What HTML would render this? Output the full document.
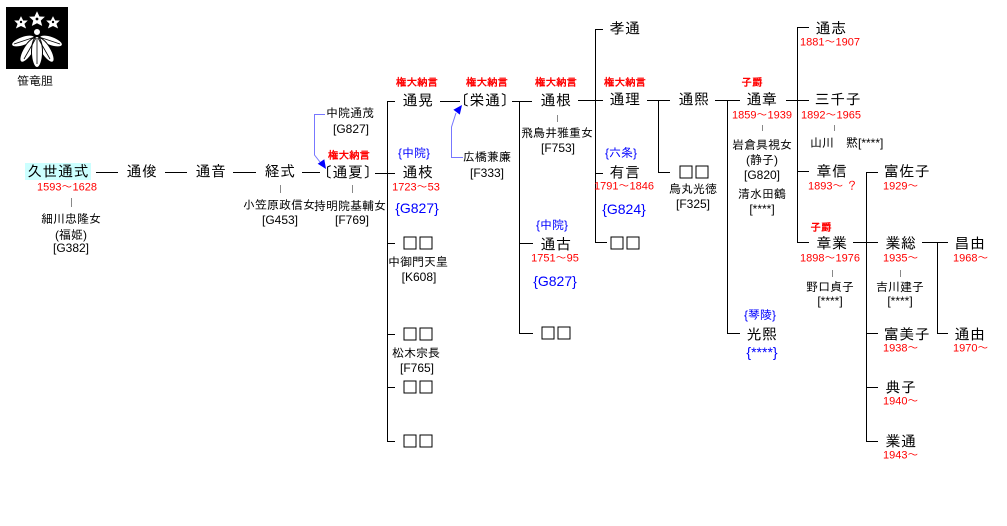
<!DOCTYPE html>
<html><head><meta charset="utf-8">
<style>
html,body{margin:0;padding:0;background:#fff;}
body{width:1007px;height:526px;position:relative;overflow:hidden;font-family:"Liberation Sans","IPAGothic","Noto Sans CJK JP",sans-serif;color:#000;}
.t{position:absolute;transform:translate(-50%,-50%);white-space:nowrap;line-height:1;}
.l{position:absolute;transform:translate(0,-50%);white-space:nowrap;line-height:1;}
.n{font-size:15px;letter-spacing:0.5px;}
.s{font-size:12px;}
.d{font-size:11px;color:#f00;}
.r{font-size:10.5px;color:#f00;font-weight:bold;}
.b{font-size:14px;color:#00f;}
.bs{font-size:12px;color:#00f;}
.sq{position:absolute;width:29px;height:13px;transform:translate(-50%,-50%);}
.sq i{position:absolute;top:0;width:11px;height:11px;border:1px solid #000;}
.sq i:first-child{left:0;}
.sq i:last-child{left:16px;}
</style></head><body>
<svg width="1007" height="526" style="position:absolute;left:0;top:0" xmlns="http://www.w3.org/2000/svg">
<!-- crest -->
<rect x="6" y="7" width="62" height="62" fill="#000"/>
<g fill="#fff" stroke="#000" stroke-width="1">
<ellipse cx="23" cy="41" rx="4.5" ry="12" transform="rotate(70 23 41)"/>
<ellipse cx="51" cy="41" rx="4.5" ry="12" transform="rotate(-70 51 41)"/>
<ellipse cx="28.5" cy="50" rx="5" ry="14" transform="rotate(32 28.5 50)"/>
<ellipse cx="45.5" cy="50" rx="5" ry="14" transform="rotate(-32 45.5 50)"/>
<ellipse cx="37" cy="52" rx="5.5" ry="15.5"/>
<polygon points="21,15 23.5,20 29,20 25,24 27,29.5 21,26.5 15,29.5 17,24 13,20 18.5,20"/>
<polygon points="53,15 55.5,20 61,20 57,24 59,29.5 53,26.5 47,29.5 49,24 45,20 50.5,20"/>
<polygon points="37,10 39.8,16 46,16.3 41.3,20.8 43,27 37,23.8 31,27 32.7,20.8 28,16.3 34.2,16"/>
<circle cx="37" cy="32" r="3.5"/>
</g>
<g stroke="#000" stroke-width="0.8">
<line x1="37" y1="38" x2="37" y2="64"/>
<line x1="36" y1="38" x2="24" y2="59"/>
<line x1="38" y1="38" x2="50" y2="59"/>
<line x1="35" y1="37" x2="14" y2="44"/>
<line x1="39" y1="37" x2="60" y2="44"/>
</g>
<g fill="#000"><circle cx="21" cy="22" r="1.2"/><circle cx="53" cy="22" r="1.2"/><circle cx="37" cy="19" r="1.4"/></g>
<rect x="25" y="163" width="66" height="17" fill="#ccffff"/>
<g stroke="#000" stroke-width="1" fill="none" shape-rendering="crispEdges">
<line x1="96" y1="172.5" x2="118" y2="172.5"/>
<line x1="165" y1="172.5" x2="187" y2="172.5"/>
<line x1="233" y1="172.5" x2="256" y2="172.5"/>
<line x1="302" y1="172.5" x2="320" y2="172.5"/>
<line x1="375" y1="173.5" x2="395" y2="173.5"/>
<line x1="387.5" y1="101" x2="387.5" y2="441"/>
<line x1="387" y1="101.5" x2="395" y2="101.5"/>
<line x1="387" y1="243.5" x2="395" y2="243.5"/>
<line x1="387" y1="334.5" x2="395" y2="334.5"/>
<line x1="387" y1="387.5" x2="395" y2="387.5"/>
<line x1="387" y1="441.5" x2="395" y2="441.5"/>
<line x1="440" y1="101.5" x2="460" y2="101.5"/>
<line x1="512" y1="101.5" x2="532" y2="101.5"/>
<line x1="519.5" y1="101" x2="519.5" y2="333"/>
<line x1="519" y1="243.5" x2="533" y2="243.5"/>
<line x1="519" y1="333.5" x2="533" y2="333.5"/>
<line x1="578" y1="100.5" x2="603" y2="100.5"/>
<line x1="595.5" y1="29" x2="595.5" y2="243"/>
<line x1="595" y1="29.5" x2="603" y2="29.5"/>
<line x1="595" y1="173.5" x2="603" y2="173.5"/>
<line x1="595" y1="242.5" x2="607" y2="242.5"/>
<line x1="647" y1="100.5" x2="670" y2="100.5"/>
<line x1="658.5" y1="100" x2="658.5" y2="172"/>
<line x1="658" y1="172.5" x2="670" y2="172.5"/>
<line x1="715" y1="100.5" x2="740" y2="100.5"/>
<line x1="727.5" y1="100" x2="727.5" y2="333"/>
<line x1="727" y1="333.5" x2="740" y2="333.5"/>
<line x1="786" y1="100.5" x2="809" y2="100.5"/>
<line x1="797.5" y1="27" x2="797.5" y2="242"/>
<line x1="797" y1="27.5" x2="809" y2="27.5"/>
<line x1="797" y1="171.5" x2="809" y2="171.5"/>
<line x1="797" y1="242.5" x2="809" y2="242.5"/>
<line x1="853" y1="242.5" x2="878" y2="242.5"/>
<line x1="866.5" y1="172" x2="866.5" y2="441"/>
<line x1="866" y1="172.5" x2="878" y2="172.5"/>
<line x1="866" y1="333.5" x2="878" y2="333.5"/>
<line x1="866" y1="387.5" x2="878" y2="387.5"/>
<line x1="866" y1="441.5" x2="878" y2="441.5"/>
<line x1="922" y1="242.5" x2="948" y2="242.5"/>
<line x1="937.5" y1="242" x2="937.5" y2="333"/>
<line x1="937" y1="333.5" x2="948" y2="333.5"/>
</g>
<g stroke="#888" stroke-width="1" shape-rendering="crispEdges">
<line x1="71.5" y1="198" x2="71.5" y2="207"/>
<line x1="280.5" y1="185" x2="280.5" y2="193"/>
<line x1="352.5" y1="185" x2="352.5" y2="193"/>
<line x1="557.5" y1="115" x2="557.5" y2="122"/>
<line x1="762.5" y1="125" x2="762.5" y2="131"/>
<line x1="834.5" y1="125" x2="834.5" y2="131"/>
<line x1="832.5" y1="270" x2="832.5" y2="277"/>
<line x1="900.5" y1="270" x2="900.5" y2="277"/>
</g>
<g stroke="#7777ff" stroke-width="1" fill="none">
<polyline points="325,114.5 314.5,114.5 314.5,155 320,162"/>
<polyline points="463,157.5 451.5,157.5 451.5,127 456,113"/>
</g>
<g fill="#0000ff">
<polygon points="326,169 317.7,163.7 324.3,159.3"/>
<polygon points="462,105 459.8,114.6 453.4,109.8"/>
</g>
</svg>

<div class="t s" style="left:35px;top:81px">笹竜胆</div>

<div class="t n" style="left:58px;top:172px">久世通式</div>
<div class="t d" style="left:67px;top:188px">1593～1628</div>
<div class="t s" style="left:71px;top:219px">細川忠隆女</div>
<div class="t s" style="left:71px;top:235px">(福姫)</div>
<div class="t s" style="left:71px;top:248px">[G382]</div>

<div class="t n" style="left:142px;top:172px">通俊</div>
<div class="t n" style="left:211px;top:172px">通音</div>
<div class="t n" style="left:280px;top:172px">経式</div>
<div class="t s" style="left:279px;top:205px">小笠原政信女</div>
<div class="t s" style="left:280px;top:220px">[G453]</div>

<div class="t s" style="left:350px;top:113px">中院通茂</div>
<div class="t s" style="left:351px;top:129px">[G827]</div>
<div class="t r" style="left:349px;top:156px">権大納言</div>
<div class="t n" style="left:348px;top:173px">〔通夏〕</div>
<div class="t s" style="left:350px;top:206px">持明院基輔女</div>
<div class="t s" style="left:352px;top:220px">[F769]</div>

<div class="t r" style="left:417px;top:83px">権大納言</div>
<div class="t n" style="left:418px;top:101px">通晃</div>
<div class="t bs" style="left:414px;top:153px">{中院}</div>
<div class="t n" style="left:418px;top:173px">通枝</div>
<div class="t d" style="left:416px;top:188px">1723～53</div>
<div class="t b" style="left:417px;top:208px">{G827}</div>
<div class="sq" style="left:418px;top:243px"><i></i><i></i></div>
<div class="t s" style="left:418px;top:262px">中御門天皇</div>
<div class="t s" style="left:419px;top:277px">[K608]</div>
<div class="sq" style="left:418px;top:334px"><i></i><i></i></div>
<div class="t s" style="left:416px;top:353px">松木宗長</div>
<div class="t s" style="left:417px;top:368px">[F765]</div>
<div class="sq" style="left:418px;top:387px"><i></i><i></i></div>
<div class="sq" style="left:418px;top:441px"><i></i><i></i></div>

<div class="t r" style="left:487px;top:83px">権大納言</div>
<div class="t n" style="left:485px;top:101px">〔栄通〕</div>
<div class="t s" style="left:487px;top:157px">広橋兼廉</div>
<div class="t s" style="left:487px;top:173px">[F333]</div>

<div class="t r" style="left:556px;top:83px">権大納言</div>
<div class="t n" style="left:556px;top:101px">通根</div>
<div class="t s" style="left:557px;top:133px">飛鳥井雅重女</div>
<div class="t s" style="left:558px;top:148px">[F753]</div>
<div class="t bs" style="left:552px;top:225px">{中院}</div>
<div class="t n" style="left:556px;top:245px">通古</div>
<div class="t d" style="left:555px;top:259px">1751～95</div>
<div class="t b" style="left:555px;top:281px">{G827}</div>
<div class="sq" style="left:556px;top:333px"><i></i><i></i></div>

<div class="t n" style="left:625px;top:29px">孝通</div>
<div class="t r" style="left:625px;top:83px">権大納言</div>
<div class="t n" style="left:625px;top:100px">通理</div>
<div class="t bs" style="left:621px;top:153px">{六条}</div>
<div class="t n" style="left:625px;top:173px">有言</div>
<div class="t d" style="left:624px;top:187px">1791～1846</div>
<div class="t b" style="left:624px;top:209px">{G824}</div>
<div class="sq" style="left:625px;top:243px"><i></i><i></i></div>

<div class="t n" style="left:694px;top:100px">通熙</div>
<div class="sq" style="left:694px;top:172px"><i></i><i></i></div>
<div class="t s" style="left:693px;top:189px">烏丸光徳</div>
<div class="t s" style="left:693px;top:204px">[F325]</div>

<div class="t r" style="left:752px;top:83px">子爵</div>
<div class="t n" style="left:762px;top:100px">通章</div>
<div class="t d" style="left:762px;top:116px">1859～1939</div>
<div class="t s" style="left:762px;top:145px">岩倉具視女</div>
<div class="t s" style="left:762px;top:160px">(静子)</div>
<div class="t s" style="left:762px;top:175px">[G820]</div>
<div class="t s" style="left:762px;top:194px">清水田鶴</div>
<div class="t s" style="left:762px;top:209px">[****]</div>
<div class="t bs" style="left:760px;top:315px">{琴陵}</div>
<div class="t n" style="left:762px;top:335px">光熙</div>
<div class="t b" style="left:762px;top:352px">{****}</div>

<div class="t n" style="left:831px;top:29px">通志</div>
<div class="t d" style="left:830px;top:43px">1881～1907</div>
<div class="t n" style="left:838px;top:100px">三千子</div>
<div class="t d" style="left:831px;top:116px">1892～1965</div>
<div class="l s" style="left:810px;top:143px">山川　黙[****]</div>
<div class="t n" style="left:832px;top:172px">章信</div>
<div class="l d" style="left:808px;top:187px">1893～ ？</div>
<div class="t r" style="left:821px;top:228px">子爵</div>
<div class="t n" style="left:832px;top:244px">章業</div>
<div class="t d" style="left:830px;top:259px">1898～1976</div>
<div class="t s" style="left:830px;top:287px">野口貞子</div>
<div class="t s" style="left:830px;top:301px">[****]</div>

<div class="t n" style="left:907px;top:172px">富佐子</div>
<div class="l d" style="left:883px;top:187px">1929～</div>
<div class="t n" style="left:901px;top:244px">業総</div>
<div class="l d" style="left:883px;top:259px">1935～</div>
<div class="t s" style="left:900px;top:287px">吉川建子</div>
<div class="t s" style="left:900px;top:301px">[****]</div>
<div class="t n" style="left:907px;top:335px">富美子</div>
<div class="l d" style="left:883px;top:349px">1938～</div>
<div class="t n" style="left:901px;top:388px">典子</div>
<div class="l d" style="left:883px;top:402px">1940～</div>
<div class="t n" style="left:901px;top:442px">業通</div>
<div class="l d" style="left:883px;top:456px">1943～</div>

<div class="t n" style="left:970px;top:244px">昌由</div>
<div class="l d" style="left:953px;top:259px">1968～</div>
<div class="t n" style="left:970px;top:335px">通由</div>
<div class="l d" style="left:953px;top:349px">1970～</div>
</body></html>
